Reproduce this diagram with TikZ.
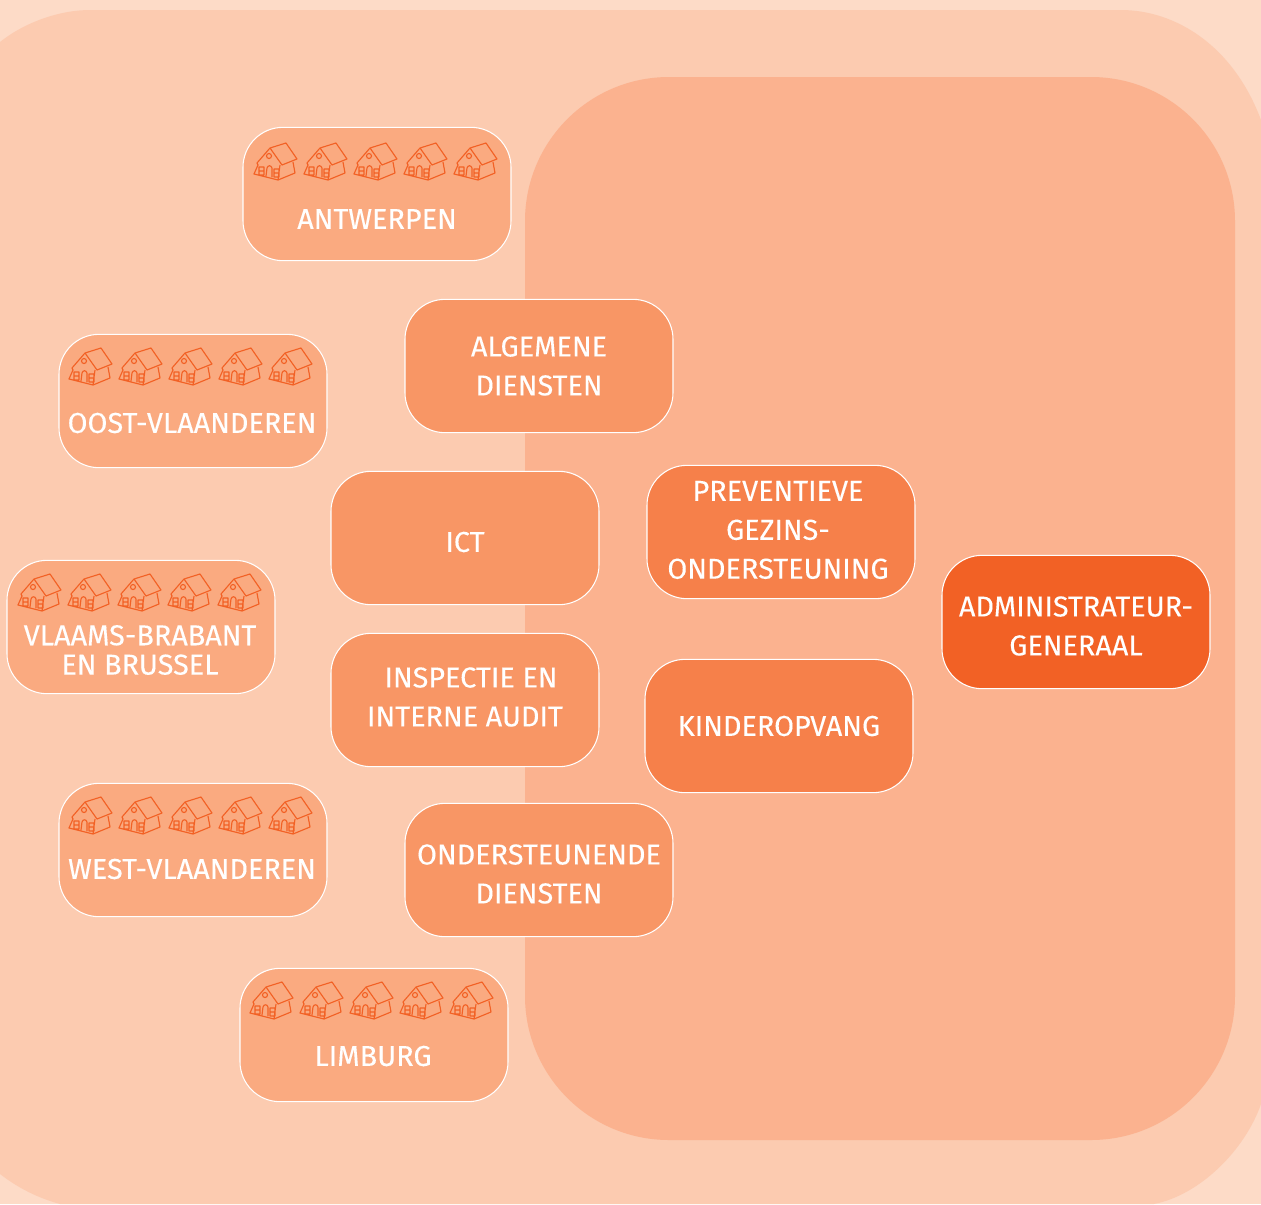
\documentclass[tikz,border=0pt]{standalone}
\usepackage{fontspec}
\setmainfont{Fira Sans}[FakeBold=0.2]
\definecolor{pagebg}{HTML}{FDDBC7}
\definecolor{outerbg}{HTML}{FCCBB0}
\definecolor{innerbg}{HTML}{FBB28F}
\definecolor{regionfill}{HTML}{FAAA80}
\definecolor{dienstfill}{HTML}{F89665}
\definecolor{afdfill}{HTML}{F6804A}
\definecolor{topfill}{HTML}{F26125}
\definecolor{houseline}{HTML}{F26125}
\tikzset{
    main/.style = {draw=white, line width=0.8pt, rounded corners=30pt, minimum width=201pt, minimum height=100pt, inner sep=0pt},
    txt/.style = {text=white, font=\fontsize{21.6}{29.2}\selectfont, align=center, inner sep=0pt},
    house/.pic = {
        \draw[houseline, line width=0.85pt, line join=round]
            (-18,0) -- (-5,-15) -- (11,-20) -- (22,-4) -- (7,2) -- (-5,-15)
            (-18,0) -- (-17,2) -- (-21,11) -- (3,17) -- (5,2)
            (3,17) -- (20,10) -- (18,-1)
            (-9,13) -- (-8,5) .. controls (-7,2) and (-4,2) .. (-3,5) -- (-3,14)
            (-16,4) rectangle (-11,12)
            (-16,8) -- (-11,8)
            (-1,6) rectangle (4,14)
            (-1,10) -- (4,10)
            (-6,-7) circle (2.5);
    }
}
\newcommand{\houses}[2]{\foreach \i in {0,1,2,3,4} \pic at ({#1+\i*50},#2) {house};}
\begin{document}
\begin{tikzpicture}[x=0.75pt, y=-0.75pt]
    \useasboundingbox (0,0) rectangle (1261,1204);
    \clip (0,0) rectangle (1261,1204);
    \fill[pagebg] (0,0) rectangle (1261,1204);
    \fill[outerbg] (0,42) .. controls (25,22) and (60,10) .. (90,10) -- (1121,10)
        .. controls (1175,10) and (1233,45) .. (1261,120) -- (1261,1104)
        .. controls (1245,1150) and (1200,1195) .. (1154,1204) -- (60,1204)
        .. controls (38,1198) and (18,1188) .. (0,1174) -- cycle;
    \fill[innerbg, rounded corners=108pt] (525,77) rectangle (1235,1140);

    % regions
    \node [main, fill=regionfill] (antwerpen) at (377,194) {};
    \node [main, fill=regionfill] (oost) at (193,401) {};
    \node [main, fill=regionfill] (brabant) at (141,627) {};
    \node [main, fill=regionfill] (west) at (193,850) {};
    \node [main, fill=regionfill] (limburg) at (374,1035) {};
    \houses{275}{163}
    \houses{90}{368}
    \houses{39}{594}
    \houses{90}{817}
    \houses{271}{1002}
    \node [txt] (antwerpentxt) at (377,219) {ANTWERPEN};
    \node [txt] (oosttxt) at (192,423) {OOST-VLAANDEREN};
    \node [txt, font=\fontsize{21.6}{22}\selectfont] (brabanttxt) at (140,650) {VLAAMS-BRABANT\\EN BRUSSEL};
    \node [txt] (westtxt) at (192,869) {WEST-VLAANDEREN};
    \node [txt] (limburgtxt) at (373,1056) {LIMBURG};

    % diensten
    \node [main, fill=dienstfill] (algemene) at (539,366) {};
    \node [main, fill=dienstfill] (ict) at (465,538) {};
    \node [main, fill=dienstfill] (inspectie) at (465,700) {};
    \node [main, fill=dienstfill] (onderst) at (539,870) {};
    \node [txt] (algemenetxt) at (539,366) {ALGEMENE\\DIENSTEN};
    \node [txt] (icttxt) at (465,542) {ICT};
    \node [txt] (inspectietxt) at (465,697) {\hspace{9pt}INSPECTIE EN\\INTERNE AUDIT};
    \node [txt] (onderstxt) at (539,874) {ONDERSTEUNENDE\\DIENSTEN};

    % afdelingen
    \node [main, fill=afdfill] (preventief) at (781,532) {};
    \node [main, fill=afdfill] (kinderopvang) at (779,726) {};
    \node [main, fill=topfill] (admin) at (1076,622) {};
    \node [txt] (preventieftxt) at (778,530) {PREVENTIEVE\\GEZINS-\\ONDERSTEUNING};
    \node [txt] (kinderopvangtxt) at (779,726) {KINDEROPVANG};
    \node [txt] (admintxt) at (1076,626) {ADMINISTRATEUR-\\GENERAAL};
\end{tikzpicture}
\end{document}
